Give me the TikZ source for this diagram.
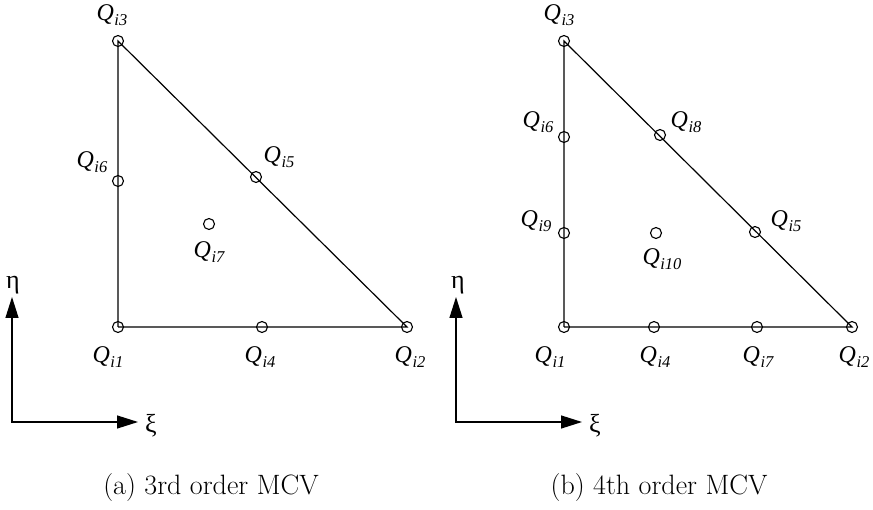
\documentclass[tikz,border=0pt]{standalone}
\usepackage{fontspec}
\setmainfont{Liberation Serif}
\newfontfamily\lmr{Latin Modern Roman}
\usetikzlibrary{arrows.meta}
\newcommand\qlab[1]{{\rmfamily\fontsize{24}{24}\selectfont\itshape Q\kern0.5pt\raisebox{-5pt}{\fontsize{16.5}{16.5}\selectfont\itshape i#1}}}
\begin{document}
\begin{tikzpicture}[x=1pt,y=-1pt,
  pt/.style={circle,draw,line width=1.1pt,inner sep=0pt,minimum size=11pt},
  edge/.style={line width=1.2pt},
  lab/.style={inner sep=0pt},
  axis/.style={line width=1.3pt,-{Triangle[length=21pt,width=13pt]}},
  greek/.style={inner sep=0pt,font=\rmfamily\fontsize{26}{26}\selectfont},
  captext/.style={inner sep=0pt,anchor=base,font=\lmr\fontsize{28}{28}\selectfont}]
\useasboundingbox (0,0) rectangle (873,510);
% ---------- panel (a)
\node[pt] (a1) at (118,327) {};
\node[pt] (a2) at (407,327) {};
\node[pt] (a3) at (118,41) {};
\node[pt] (a4) at (262,327) {};
\node[pt] (a5) at (256,177) {};
\node[pt] (a6) at (118,181) {};
\node[pt] (a7) at (209,224) {};
\draw[edge] (a1.center) -- (a2.center) -- (a3.center) -- (a1.center);
\node[lab] (la1) at (108,357) {\qlab{1}};
\node[lab] (la2) at (410,357) {\qlab{2}};
\node[lab] (la3) at (112,15) {\qlab{3}};
\node[lab] (la4) at (260,357) {\qlab{4}};
\node[lab] (la5) at (279,157) {\qlab{5}};
\node[lab] (la6) at (92,162) {\qlab{6}};
\node[lab] (la7) at (209,252) {\qlab{7}};
\coordinate (ao) at (12,422);
\coordinate (ay) at (12,297);
\coordinate (ax) at (138,422);
\draw[axis] (ao) -- (ay);
\draw[axis] ([xshift=-0.65pt]ao) -- (ax);
\node[greek] (eta1) at (13,285) {η};
\node[greek] (xi1) at (151,426) {ξ};
\node[captext] (capa) at (211,494) {(a) 3rd order MCV};
% ---------- panel (b)
\node[pt] (b1) at (564,327) {};
\node[pt] (b2) at (852,327) {};
\node[pt] (b3) at (564,41) {};
\node[pt] (b4) at (654,327) {};
\node[pt] (b5) at (755,232) {};
\node[pt] (b6) at (564,137) {};
\node[pt] (b7) at (757,327) {};
\node[pt] (b8) at (660,135) {};
\node[pt] (b9) at (564,233) {};
\node[pt] (b10) at (656,233) {};
\draw[edge] (b1.center) -- (b2.center) -- (b3.center) -- (b1.center);
\node[lab] (lb1) at (550,357) {\qlab{1}};
\node[lab] (lb2) at (854,357) {\qlab{2}};
\node[lab] (lb3) at (559,15) {\qlab{3}};
\node[lab] (lb4) at (655,357) {\qlab{4}};
\node[lab] (lb5) at (786,221) {\qlab{5}};
\node[lab] (lb6) at (538,122) {\qlab{6}};
\node[lab] (lb7) at (758,357) {\qlab{7}};
\node[lab] (lb8) at (686,122) {\qlab{8}};
\node[lab] (lb9) at (536,221) {\qlab{9}};
\node[lab] (lb10) at (662,259) {\qlab{10}};
\coordinate (bo) at (456,422);
\coordinate (by) at (456,297);
\coordinate (bx) at (582,422);
\draw[axis] (bo) -- (by);
\draw[axis] ([xshift=-0.65pt]bo) -- (bx);
\node[greek] (eta2) at (458,285) {η};
\node[greek] (xi2) at (595,426) {ξ};
\node[captext] (capb) at (659,494) {(b) 4th order MCV};
\end{tikzpicture}
\end{document}
